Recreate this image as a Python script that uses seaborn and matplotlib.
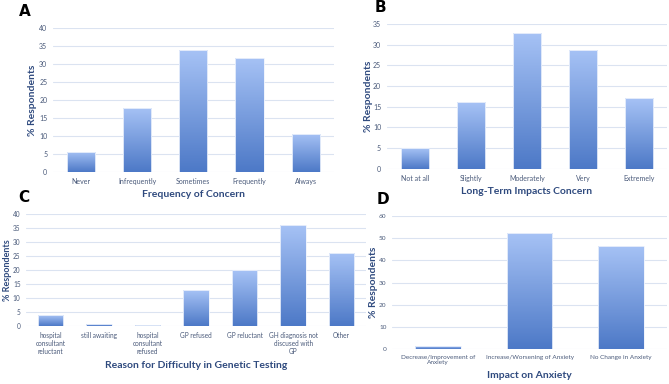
import numpy as np
import pandas as pd
import matplotlib
matplotlib.use("Agg")
import matplotlib.pyplot as plt
from matplotlib.colors import LinearSegmentedColormap
import seaborn as sns

# data
cat_a = ["Never", "Infrequently", "Sometimes", "Frequently", "Always"]
val_a = [5.7, 17.8, 33.8, 31.8, 10.6]

cat_b = ["Not at all", "Slightly", "Moderately", "Very", "Extremely"]
val_b = [5.0, 16.1, 32.9, 28.8, 17.1]

cat_c = ["hospital\nconsultant\nreluctant", "still awaiting", "hospital\nconsultant\nrefused",
         "GP refused", "GP reluctant", "GH diagnosis not\ndiscused with\nGP", "Other"]
val_c = [3.8, 0.8, 0.4, 12.7, 19.9, 36.0, 26.2]

cat_d = ["Decrease/Improvement of\nAnxiety", "Increase/Worsening of Anxiety", "No Change in Anxiety"]
val_d = [1.2, 52.2, 46.6]

sns.set_style("white")
plt.rcParams["font.family"] = ["Lato", "DejaVu Sans"]

tick_col = "#4a5a7a"
lab_col = "#2f4a7e"
grid_col = "#dbe3f1"
grad = LinearSegmentedColormap.from_list("g", ["#4d79c7", "#a6c2f5"])

fig = plt.figure(figsize=(6.69, 3.84), dpi=100)


def panel(rect, cats, vals, ymax, step, xlabel, letter, letter_xy, ylab_x, width, tsize, ysize):
    ax = fig.add_axes(rect)
    df = pd.DataFrame({"cat": cats, "val": vals})
    sns.barplot(data=df, x="cat", y="val", ax=ax, width=width, color="#7ea3e6")
    ax.set_ylim(0, ymax)
    ax.set_yticks(np.arange(0, ymax + 0.1, step))
    ax.grid(axis="y", color=grid_col, lw=0.8)
    ax.set_axisbelow(True)
    for s in ax.spines.values():
        s.set_visible(False)
    ax.tick_params(axis="both", length=0, labelsize=tsize, colors=tick_col, pad=4)
    ax.set_xlabel(xlabel, fontsize=7.5, fontweight="bold", color=lab_col, labelpad=4)
    ax.set_ylabel("% Respondents", fontsize=ysize, fontweight="bold", color=lab_col)
    ax.yaxis.set_label_coords((ylab_x - rect[0]) / rect[2], 0.5)
    # vertical gradient inside each bar
    for p in ax.patches:
        x0, y0 = p.get_x(), p.get_y()
        w, h = p.get_width(), p.get_height()
        im = ax.imshow(np.linspace(0, 1, 100).reshape(-1, 1), cmap=grad, aspect="auto",
                       origin="lower", extent=[x0, x0 + w, y0, y0 + h], zorder=2)
        im.set_clip_path(p)
        p.set_facecolor("none")
        p.set_edgecolor("#eef3fc")
        p.set_linewidth(0.6)
        p.set_zorder(3)
    ax.set_xlim(-0.5, len(cats) - 0.5)
    ax.set_ylim(0, ymax)
    fig.text(letter_xy[0], letter_xy[1], letter, fontsize=11, fontweight="bold",
             family="DejaVu Sans", color="black", ha="left", va="center")
    return ax


panel([0.079, 0.552, 0.42, 0.375], cat_a, val_a, 40, 5, "Frequency of Concern",
      "A", (0.028, 0.97), 0.056, 0.5, 5.0, 7.5)
panel([0.578, 0.56, 0.419, 0.378], cat_b, val_b, 35, 5, "Long-Term Impacts Concern",
      "B", (0.56, 0.98), 0.558, 0.5, 5.0, 7.5)
panel([0.039, 0.151, 0.508, 0.292], cat_c, val_c, 40, 5, "Reason for Difficulty in Genetic Testing",
      "C", (0.028, 0.485), 0.018, 0.52, 4.7, 6.5)
panel([0.586, 0.091, 0.411, 0.346], cat_d, val_d, 60, 10, "Impact on Anxiety",
      "D", (0.563, 0.48), 0.565, 0.5, 4.6, 7.5)

fig.savefig("out.png", dpi=100)
